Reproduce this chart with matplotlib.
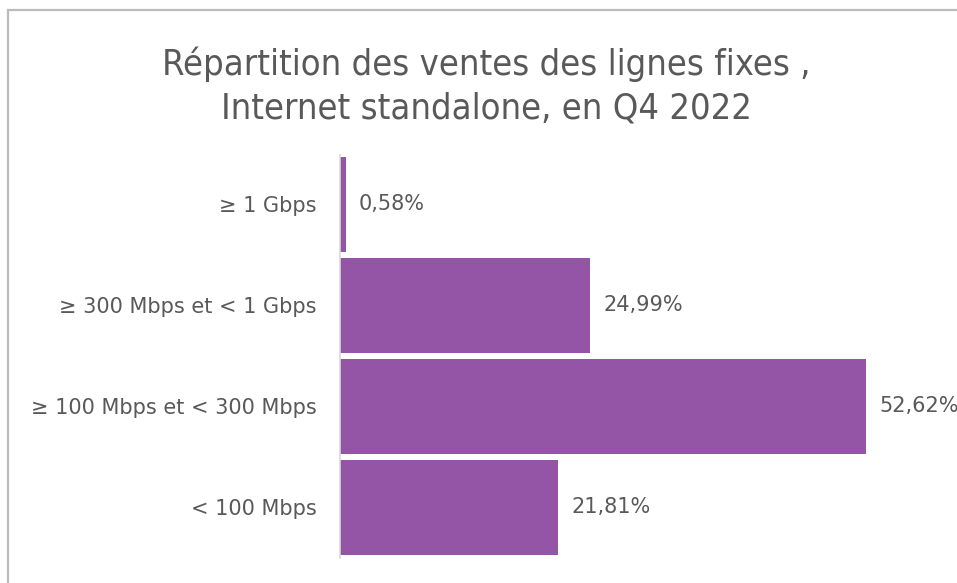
import matplotlib.pyplot as plt
from matplotlib.patches import Rectangle

categories = ["≥ 1 Gbps", "≥ 300 Mbps et < 1 Gbps", "≥ 100 Mbps et < 300 Mbps", "< 100 Mbps"]
shares = [0.58, 24.99, 52.62, 21.81]
labels = ["0,58%", "24,99%", "52,62%", "21,81%"]

BAR_COLOR = "#9555A6"
TEXT_COLOR = "#595959"

W, H = 957, 583
fig = plt.figure(figsize=(W / 100, H / 100), dpi=100)

# outer chart border (cut off at right/bottom like the source)
fig.patches.append(Rectangle((8 / W, -0.1), 1.2, (H - 10) / H + 0.1, transform=fig.transFigure,
                             fill=False, edgecolor="#BBBBBB", linewidth=1.6))

ax = fig.add_axes([340 / W, (H - 558) / H, (W - 340) / W, (558 - 155) / H])
y = list(range(len(categories)))
ax.barh(y, shares, height=0.94, color=BAR_COLOR)
ax.set_xlim(0, (W - 340) / 10)
ax.set_ylim(3.5, -0.49)

for yi, v, lab in zip(y, shares, labels):
    ax.annotate(lab, (v, yi), xytext=(9.5, 0), textcoords="offset points", va="center", ha="left",
                fontsize=15, color=TEXT_COLOR, family="DejaVu Sans", annotation_clip=False)

ax.set_yticks(y)
ax.set_yticklabels(categories, fontsize=15, color=TEXT_COLOR, family="DejaVu Sans")
ax.tick_params(axis="y", length=0, pad=17)
ax.set_xticks([])
for side in ["top", "right", "bottom"]:
    ax.spines[side].set_visible(False)
ax.spines["left"].set_color("#D9D9D9")
ax.spines["left"].set_linewidth(1.2)

fig.text(486 / W, 1 - 86 / H, "Répartition des ventes des lignes fixes ,\nInternet standalone, en Q4 2022",
         ha="center", va="center", fontsize=26, color=TEXT_COLOR, linespacing=1.38,
         family="DejaVu Sans", fontstretch="condensed")

fig.savefig("out.png", dpi=100)
